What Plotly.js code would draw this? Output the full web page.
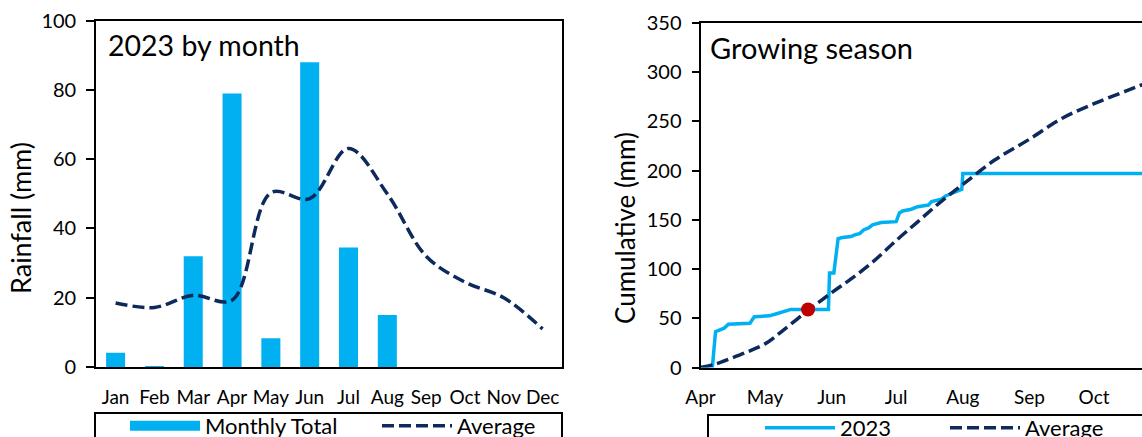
<!DOCTYPE html>
<html>
<head>
<meta charset="utf-8">
<script src="https://cdn.plot.ly/plotly-3.0.1.min.js"></script>
<style>
  html, body { margin: 0; padding: 0; overflow: hidden; background: #fff; }
  #chart { width: 1200px; height: 437px; }
</style>
</head>
<body>
<div id="chart"></div>
<script>
// ---- Data: monthly chart ----
const months = ['Jan','Feb','Mar','Apr','May','Jun','Jul','Aug','Sep','Oct','Nov','Dec'];
const monthlyTotal = [4.1, 0.3, 32, 79, 8.3, 88, 34.5, 15, null, null, null, null];
const monthlyAverage = [18.5, 17.2, 20.7, 19.3, 50.3, 48.6, 63.1, 50, 32, 24.5, 20, 11];

// ---- Data: growing season cumulative ----
const season2023Dates = ['2023-04-01','2023-04-06 12:00','2023-04-08','2023-04-10','2023-04-12','2023-04-14',
  '2023-04-24','2023-04-26','2023-05-03','2023-05-06','2023-05-10','2023-05-13','2023-05-30 12:00',
  '2023-05-31','2023-06-02','2023-06-04','2023-06-06','2023-06-10','2023-06-12','2023-06-14','2023-06-16',
  '2023-06-18','2023-06-20','2023-06-24','2023-07-01','2023-07-02 12:00','2023-07-04','2023-07-08',
  '2023-07-11','2023-07-16','2023-07-17 12:00','2023-07-22','2023-07-24','2023-07-27','2023-07-30 12:00',
  '2023-07-31 12:00','2023-08-01','2023-11-03'];
const season2023Values = [0, 0, 36.4, 38, 40, 44,
  45, 51.5, 52.5, 54.4, 56.7, 59, 59,
  96, 96, 131, 132, 133, 135, 136, 140,
  141.5, 145, 147.2, 148.2, 157, 159, 160.8,
  163.4, 165, 168.5, 171, 174.3, 177, 180.4,
  181, 197, 197];

const seasonAvgDates = ['2023-04-01','2023-04-08','2023-04-16','2023-04-24','2023-05-01','2023-05-09',
  '2023-05-21','2023-06-01','2023-06-10','2023-06-20','2023-07-01','2023-07-11','2023-07-21','2023-08-01',
  '2023-08-16','2023-09-01','2023-09-16','2023-10-01','2023-10-16','2023-10-23','2023-11-03'];
const seasonAvgValues = [0, 3.5, 10, 17, 24, 37,
  58, 76, 90, 107, 129, 148, 167, 186,
  211, 232, 253, 268, 281, 287, 295];

const markerDate = ['2023-05-21'];
const markerValue = [59];

const seasonTickVals = ['2023-04-01','2023-05-01','2023-06-01','2023-07-01','2023-08-01','2023-09-01','2023-10-01'];
const seasonTickText = ['Apr','May','Jun','Jul','Aug','Sep','Oct'];

// ---- Layout helpers (pixel -> paper) ----
const W = 1200, H = 437;
const px = x => x / W;
const py = y => 1 - y / H;

const LIGHT = '#00b0f0', NAVY = '#0e2a5c', RED = '#c00000';
const FONT = 'Lato, "Open Sans", sans-serif';

const traces = [
  { type: 'bar', x: months, y: monthlyTotal, name: 'Monthly Total', marker: { color: LIGHT },
    width: 0.49, xaxis: 'x', yaxis: 'y', showlegend: false },
  // legend entry for the bars (wide swatch, draws no data)
  { type: 'scatter', mode: 'lines', x: [null], y: [null], name: 'Monthly Total',
    line: { color: LIGHT, width: 14 }, xaxis: 'x', yaxis: 'y', legend: 'legend', showlegend: true },
  { type: 'scatter', mode: 'lines', x: months, y: monthlyAverage, name: 'Average',
    line: { color: NAVY, width: 3.5, dash: '12px,5px', shape: 'spline', smoothing: 1 },
    xaxis: 'x', yaxis: 'y', legend: 'legend' },
  { type: 'scatter', mode: 'lines', x: season2023Dates, y: season2023Values, name: '2023',
    line: { color: LIGHT, width: 3.5 }, xaxis: 'x2', yaxis: 'y2', legend: 'legend2' },
  { type: 'scatter', mode: 'lines', x: seasonAvgDates, y: seasonAvgValues, name: 'Average',
    line: { color: NAVY, width: 3.5, dash: '12px,5px', shape: 'spline', smoothing: 1 },
    xaxis: 'x2', yaxis: 'y2', legend: 'legend2' },
  { type: 'scatter', mode: 'markers', x: markerDate, y: markerValue, showlegend: false,
    marker: { color: RED, size: 14 }, xaxis: 'x2', yaxis: 'y2' }
];

const axisCommon = {
  showline: true, linecolor: '#000', linewidth: 2, mirror: true,
  showgrid: false, zeroline: false, tickfont: { size: 19, color: '#000' }
};

const layout = {
  width: W, height: H,
  margin: { l: 0, r: 0, t: 0, b: 0, autoexpand: false },
  paper_bgcolor: '#fff', plot_bgcolor: '#fff',
  font: { family: FONT, color: '#000' },
  showlegend: true,
  xaxis: Object.assign({}, axisCommon, {
    domain: [px(96.2), px(562)], type: 'category', range: [-0.5, 11.5],
    ticks: '', ticklabelstandoff: 12, anchor: 'y'
  }),
  yaxis: Object.assign({}, axisCommon, {
    domain: [py(367), py(20.7)], range: [0, 100], dtick: 20,
    tickfont: { size: 20, color: '#000' },
    ticks: 'outside', ticklen: 8, tickwidth: 2, tickcolor: '#000', ticklabelstandoff: 6, anchor: 'x'
  }),
  xaxis2: Object.assign({}, axisCommon, {
    domain: [px(700.5), px(1165)], type: 'date', range: ['2023-04-01', '2023-11-03'],
    tickmode: 'array', tickvals: seasonTickVals, ticktext: seasonTickText,
    ticks: '', ticklabelstandoff: 12, anchor: 'y2'
  }),
  yaxis2: Object.assign({}, axisCommon, {
    domain: [py(367.5), py(23)], range: [0, 350], dtick: 50,
    tickfont: { size: 20, color: '#000' },
    ticks: 'outside', ticklen: 7, tickwidth: 2, tickcolor: '#000', ticklabelstandoff: 6, anchor: 'x2'
  }),
  legend: {
    orientation: 'h', x: px(125), xanchor: 'left', y: py(405), yanchor: 'top',
    bgcolor: 'rgba(0,0,0,0)', borderwidth: 0, font: { size: 22, color: '#000' },
    itemwidth: 70, entrywidth: 167, entrywidthmode: 'pixels', traceorder: 'normal'
  },
  legend2: {
    orientation: 'h', x: px(760), xanchor: 'left', y: py(407), yanchor: 'top',
    bgcolor: 'rgba(0,0,0,0)', borderwidth: 0, font: { size: 22, color: '#000' },
    itemwidth: 70, entrywidth: 100, entrywidthmode: 'pixels', traceorder: 'normal'
  },
  shapes: [
    { type: 'rect', xref: 'paper', yref: 'paper', x0: px(95), x1: px(562), y0: py(460), y1: py(413),
      line: { color: '#000', width: 2 }, fillcolor: 'rgba(0,0,0,0)' },
    { type: 'rect', xref: 'paper', yref: 'paper', x0: px(708), x1: px(1250), y0: py(460), y1: py(415),
      line: { color: '#000', width: 2 }, fillcolor: 'rgba(0,0,0,0)' }
  ],
  annotations: [
    { text: '2023 by month', xref: 'paper', yref: 'paper', x: px(106), y: py(44.6), xanchor: 'left', yanchor: 'middle',
      showarrow: false, font: { size: 28.5, color: '#000' } },
    { text: 'Growing season', xref: 'paper', yref: 'paper', x: px(708), y: py(47.6), xanchor: 'left', yanchor: 'middle',
      showarrow: false, font: { size: 29, color: '#000' } },
    { text: 'Rainfall (mm)', xref: 'paper', yref: 'paper', x: px(21), y: py(218), xanchor: 'center', yanchor: 'middle',
      textangle: -90, showarrow: false, font: { size: 27, color: '#000' } },
    { text: 'Cumulative (mm)', xref: 'paper', yref: 'paper', x: px(625), y: py(228), xanchor: 'center', yanchor: 'middle',
      textangle: -90, showarrow: false, font: { size: 26, color: '#000' } }
  ]
};

Plotly.newPlot('chart', traces, layout, { staticPlot: true, displayModeBar: false });
</script>
</body>
</html>
